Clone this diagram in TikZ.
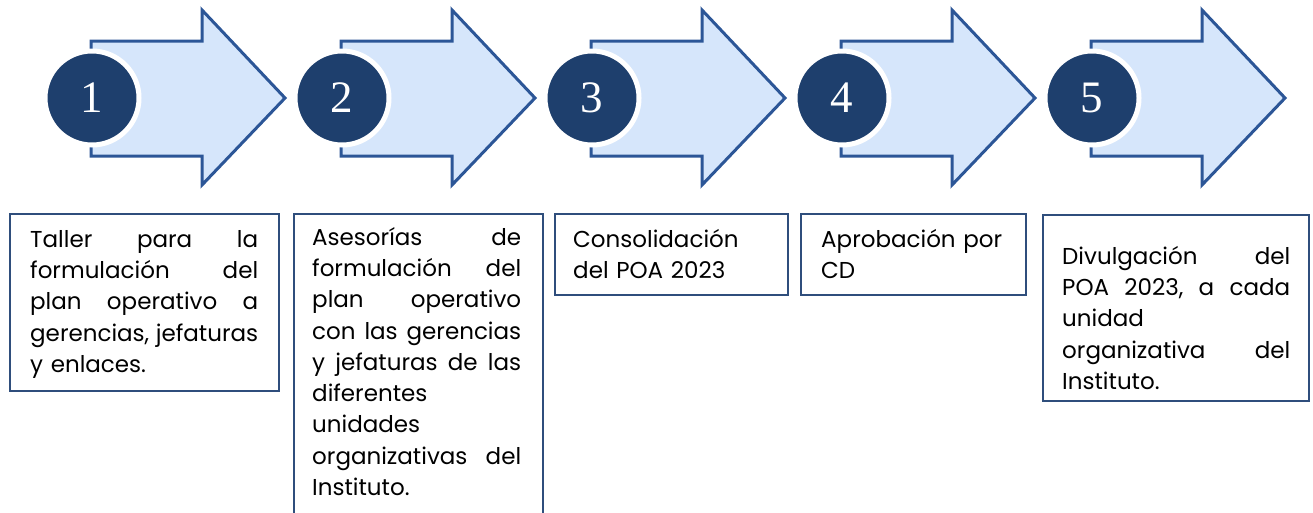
\documentclass[tikz,border=0pt]{standalone}
\usepackage{fontspec}
\setmainfont{Poppins}
\newfontfamily\numfont{Liberation Serif}
\setlength\parindent{0pt}
\definecolor{arrowfill}{HTML}{D6E6FB}
\definecolor{arrowline}{HTML}{2C5697}
\definecolor{navy}{HTML}{1E3F6D}
\definecolor{boxline}{HTML}{2F4E7C}

\begin{document}
\begin{tikzpicture}[x=1pt, y=-1pt,
    steparrow/.style={fill=arrowfill, draw=arrowline, line width=3pt, line join=miter},
    num/.style={circle, fill=navy, draw=white, line width=5pt, minimum size=94pt,
      inner sep=0pt, text=white, font=\numfont\fontsize{45}{45}\selectfont},
    box/.style={draw=boxline, line width=1.8pt, anchor=north west, inner sep=0pt},
    txt/.style={anchor=north west, inner sep=0pt, align=left, font=\fontsize{23}{31.3}\selectfont}]
        \useasboundingbox (0,0) rectangle (1313,512);
        \clip (0,0) rectangle (1313,512);

        % the five arrows
        \foreach \i in {0,...,4} {
          \draw[steparrow] ({91+250*\i},41) -- ++(111,0) -- ++(0,-31)
            -- ({285+250*\i},98) -- ({202+250*\i},185) -- ++(0,-29)
            -- ({91+250*\i},156) -- cycle;
        }
        \foreach \n in {1,...,5}
          \node[num] (n\n) at ({92+250*(\n-1)},98) {\n};

        % boxes
        \node[box, minimum width=269pt, minimum height=177pt] (b1) at (9,213) {};
        \node[box, minimum width=249pt, minimum height=330pt] (b2) at (293,213) {};
        \node[box, minimum width=233pt, minimum height=81pt]  (b3) at (554,213) {};
        \node[box, minimum width=225pt, minimum height=81pt]  (b4) at (800,213) {};
        \node[box, minimum width=266pt, minimum height=186pt] (b5) at (1042,214) {};

        \node[txt, text width=228pt] (t1) at (30,225) {\strut Taller\hfill para\hfill la\\
          formulación\hfill del\\ plan\hfill operativo\hfill a\\
          gerencias,\hfill jefaturas\\ y enlaces.};
        \node[txt, text width=209pt] (t2) at (312,223) {\strut Asesorías\hfill de\\
          formulación\hfill del\\ plan\hfill operativo\\
          con\hfill las\hfill gerencias\\ y\hfill jefaturas\hfill de\hfill las\\
          diferentes\\ unidades\\ organizativas\hfill del\\ Instituto.};
        \node[txt, text width=205pt] (t3) at (573,225) {\strut Consolidación\\ del POA 2023};
        \node[txt, text width=195pt] (t4) at (821,225) {\strut Aprobación por\\ CD};
        \node[txt, text width=228pt] (t5) at (1062,242) {\strut Divulgación\hfill del\\
          POA\hfill 2023,\hfill a\hfill cada\\ unidad\\
          organizativa\hfill del\\ Instituto.};
\end{tikzpicture}
\end{document}
